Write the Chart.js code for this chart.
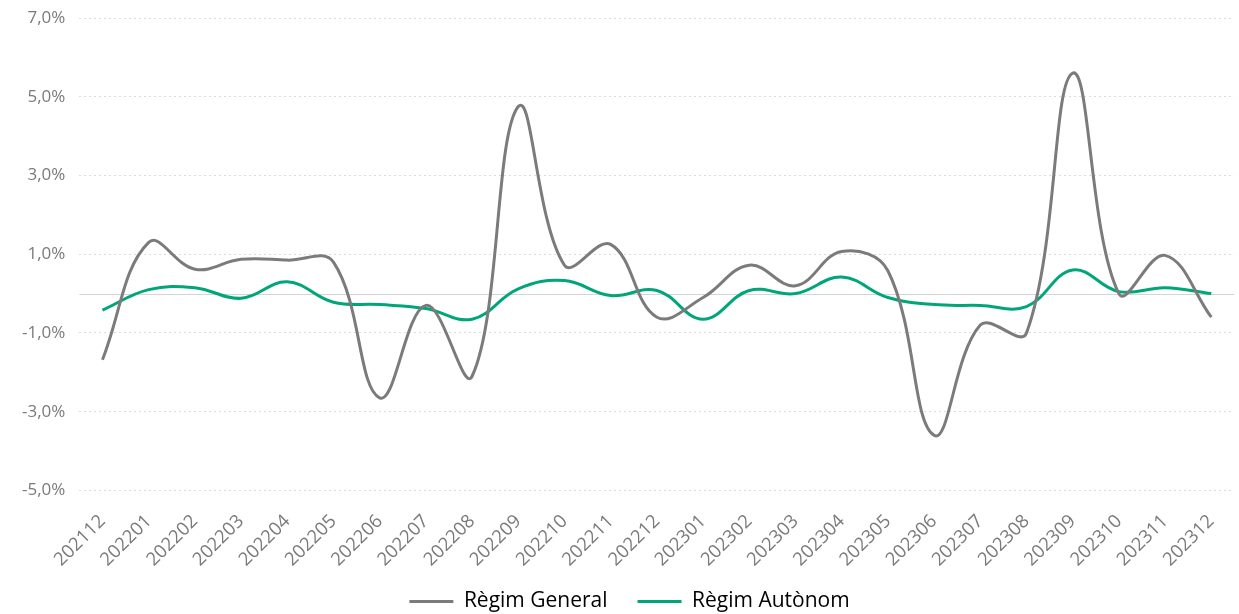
<!DOCTYPE html>
<html>
<head>
<meta charset="utf-8">
<script src="https://cdn.jsdelivr.net/npm/chart.js@4/dist/chart.umd.min.js"></script>
<style>
  html, body { margin: 0; padding: 0; background: #fff; }
  #wrap { width: 1239px; height: 614px; }
</style>
</head>
<body>
<div id="wrap"><canvas id="grafic"></canvas></div>
<script>
// Dades
const mesos = ["202112", "202201", "202202", "202203", "202204", "202205", "202206",
  "202207", "202208", "202209", "202210", "202211", "202212", "202301", "202302",
  "202303", "202304", "202305", "202306", "202307", "202308", "202309", "202310",
  "202311", "202312"];

const regimGeneral = [-1.68, 1.3, 0.62, 0.87, 0.85, 0.8, -2.65, -0.3, -2.1, 4.75, 0.72,
  1.25, -0.6, -0.1, 0.72, 0.2, 1.07, 0.58, -3.6, -0.8, -1.0, 5.6, 0.0, 0.97, -0.6];

const regimAutonom = [-0.42, 0.1, 0.15, -0.12, 0.3, -0.22, -0.28, -0.38, -0.65, 0.12,
  0.33, -0.05, 0.08, -0.65, 0.08, 0.0, 0.42, -0.1, -0.28, -0.3, -0.33, 0.6, 0.05,
  0.15, 0.0];

const ticksY = [-5, -3, -1, 1, 3, 5, 7];

// línia del zero
const liniaZero = {
  id: 'liniaZero',
  beforeDatasetsDraw(chart) {
    const { ctx, chartArea, scales } = chart;
    const y = Math.round(scales.y.getPixelForValue(0)) + 0.5;
    ctx.save();
    ctx.strokeStyle = '#d4d4d4';
    ctx.lineWidth = 1;
    ctx.beginPath();
    ctx.moveTo(chartArea.left, y);
    ctx.lineTo(chartArea.right, y);
    ctx.stroke();
    ctx.restore();
  }
};

// la llegenda ocupa menys alçada (el padding només fa d'espai horitzontal)
const RETALL = 22;
const llegenda = {
  id: 'llegenda',
  beforeLayout(chart) {
    const lg = chart.legend;
    if (lg && !lg._retallat) {
      const fit = lg.fit;
      lg.fit = function () { fit.call(this); this.height -= RETALL; };
      lg._retallat = true;
    }
  },
  afterLayout(chart) {
    const lg = chart.legend;
    lg.top -= RETALL;
    lg.left += 6;
    lg.right += 6;
  }
};

Chart.defaults.font.family = "'Open Sans', sans-serif";
Chart.defaults.color = '#7a7a7a';

new Chart(document.getElementById('grafic'), {
  type: 'line',
  data: {
    labels: mesos,
    datasets: [{
      label: 'Règim General',
      data: regimGeneral,
      borderColor: '#7b7b7b',
      backgroundColor: '#7b7b7b',
      borderWidth: 3,
      pointRadius: 0,
      tension: 0.4
    }, {
      label: 'Règim Autònom',
      data: regimAutonom,
      borderColor: '#00a67a',
      backgroundColor: '#00a67a',
      borderWidth: 3,
      pointRadius: 0,
      tension: 0.4
    }]
  },
  options: {
    responsive: true,
    maintainAspectRatio: false,
    animation: false,
    layout: { padding: { left: 8, right: 0, top: 0, bottom: -8 } },
    plugins: {
      legend: {
        position: 'bottom',
        labels: {
          color: '#262626',
          font: { size: 21 },
          boxWidth: 44,
          boxHeight: 0,
          padding: 30,
          generateLabels(chart) {
            return chart.data.datasets.map((d, i) => ({
              text: d.label,
              strokeStyle: d.borderColor,
              fillStyle: d.borderColor,
              lineWidth: 3,
              datasetIndex: i
            }));
          }
        }
      },
      tooltip: { enabled: false }
    },
    scales: {
      x: {
        offset: true,
        grid: { display: false },
        border: { display: false },
        ticks: {
          font: { size: 18.5 },
          maxRotation: 45,
          minRotation: 45,
          autoSkip: false,
          padding: 12
        }
      },
      y: {
        min: -5,
        max: 7,
        border: { display: false, dash: [2, 3] },
        afterBuildTicks(scale) {
          scale.ticks = ticksY.map(v => ({ value: v }));
        },
        afterFit(scale) {
          scale.paddingTop = 18;
        },
        grid: {
          color: '#dcdcdc',
          tickLength: 0
        },
        ticks: {
          font: { size: 17 },
          padding: 14,
          callback: v => v.toFixed(1).replace('.', ',') + '%'
        }
      }
    }
  },
  plugins: [liniaZero, llegenda]
});
</script>
</body>
</html>
